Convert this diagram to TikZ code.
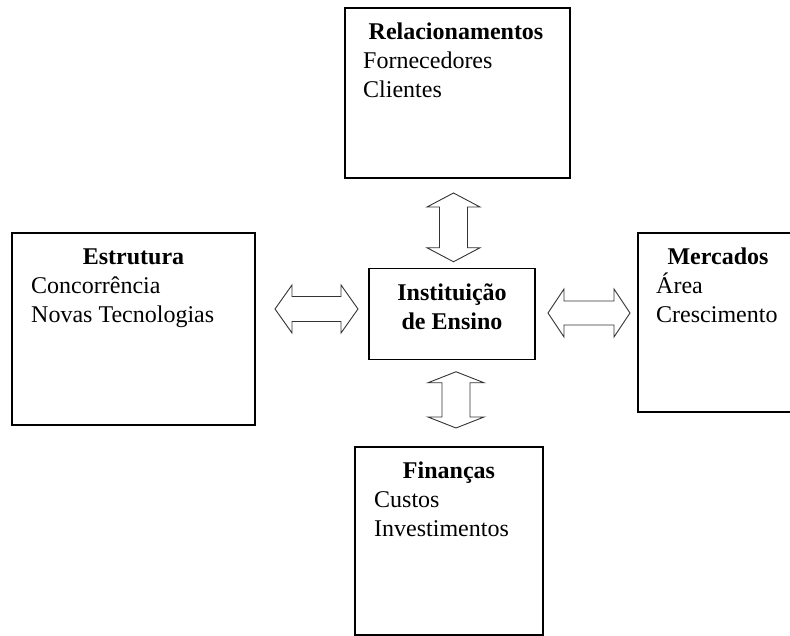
\documentclass[tikz,border=0pt]{standalone}
\usepackage{fontspec}
\setmainfont{Liberation Serif}
\usetikzlibrary{calc, positioning}

% outlined double block arrows: end, end, half shaft, half head, head length
\newcommand{\hdblarrow}[5]{%
	\draw[blockarrow] (#1) -- ++(#5,-#4) -- ++(0,#4-#3) -- ($(#2)+(-#5,-#3)$) -- ++(0,#3-#4) -- (#2)
		-- ++(-#5,#4) -- ++(0,#3-#4) -- ($(#1)+(#5,#3)$) -- ++(0,#4-#3) -- cycle;}
\newcommand{\vdblarrow}[5]{%
	\draw[blockarrow] (#1) -- ++(#4,#5) -- ++(#3-#4,0) -- ($(#2)+(#3,-#5)$) -- ++(#4-#3,0) -- (#2)
		-- ++(-#4,-#5) -- ++(#4-#3,0) -- ($(#1)+(-#3,#5)$) -- ++(#3-#4,0) -- cycle;}

\begin{document}
\begin{tikzpicture}[x=1pt, y=-1pt, font=\fontsize{24}{29}\selectfont]
		\tikzstyle{box}=[draw=black, line width=1.2pt, rectangle, fill=none, inner sep=0pt, outer sep=0pt]
		\tikzstyle{title}=[anchor=base, inner sep=0pt, font=\fontsize{24}{29}\selectfont\bfseries]
		\tikzstyle{item}=[anchor=base west, inner sep=0pt]
		\tikzstyle{blockarrow}=[draw=black!80, line width=0.9pt, fill=white, line join=miter]
		
		\useasboundingbox (0,0) rectangle (790,636);
		
		\node[box, minimum width=225, minimum height=170] (rel) at (457.5,93) {};
		\node[box, minimum width=243, minimum height=192] (est) at (133.5,329) {};
		\node[box, minimum width=166, minimum height=91.5] (inst) at (452,314) {};
		\node[box, minimum width=172, minimum height=179] (mer) at (724,322.5) {};
		\node[box, minimum width=188, minimum height=188] (fin) at (449,541) {};
		
		\node[title] (rel-t) at ($(rel.north)+(-1.5,32)$) {Relacionamentos};
		\foreach \txt [count=\i] in {Fornecedores, Clientes}
			\node[item] (rel-\i) at ($(rel.north west)+(18,32+29*\i)$) {\txt};
		
		\node[title] (est-t) at ($(est.north)+(0,32)$) {Estrutura};
		\foreach \txt [count=\i] in {Concorrência, Novas Tecnologias}
			\node[item] (est-\i) at ($(est.north west)+(19,32+29*\i)$) {\txt};
		
		\node[title] (mer-t) at ($(mer.north)+(-6,32)$) {Mercados};
		\foreach \txt [count=\i] in {Área, Crescimento}
			\node[item] (mer-\i) at ($(mer.north west)+(18,32+29*\i)$) {\txt};
		
		\node[title] (fin-t) at ($(fin.north)+(0,31)$) {Finanças};
		\foreach \txt [count=\i] in {Custos, Investimentos}
			\node[item] (fin-\i) at ($(fin.north west)+(19,31+29*\i)$) {\txt};
		
		\node[title] (inst-1) at ($(inst.north)+(0,32.5)$) {Instituição};
		\node[title] (inst-2) at ($(inst.north)+(0,61.5)$) {de Ensino};
		
		\coordinate (top-a) at ($(rel.south)+(-4,15)$);
		\coordinate (top-b) at ($(inst.north)+(1.5,-6.5)$);
		\coordinate (bot-a) at ($(inst.south)+(4,12)$);
		\coordinate (bot-b) at ($(fin.north)+(7,-19)$);
		\coordinate (lft-a) at ($(est.east)+(20,-20)$);
		\coordinate (lft-b) at ($(inst.west)+(-11,-5)$);
		\coordinate (rgt-a) at ($(inst.east)+(13,-1)$);
		\coordinate (rgt-b) at ($(mer.west)+(-8,-9.5)$);
		
		\vdblarrow{top-a}{top-b}{14}{26.5}{14}
		\vdblarrow{bot-a}{bot-b}{14}{28}{11}
		\hdblarrow{lft-a}{lft-b}{12.5}{24}{17}
		\hdblarrow{rgt-a}{rgt-b}{12}{24}{16}
\end{tikzpicture}
\end{document}
